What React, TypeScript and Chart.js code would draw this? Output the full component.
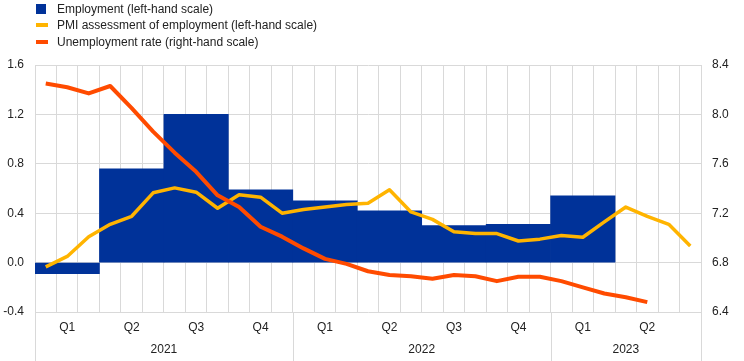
import React, { useEffect, useRef } from 'react';
import { Chart, registerables } from 'chart.js';

Chart.register(...registerables);

// ---- data ----
const monthCount = 31; // Jan 2021 .. Jul 2023
const quarterLabels = ['Q1', 'Q2', 'Q3', 'Q4', 'Q1', 'Q2', 'Q3', 'Q4', 'Q1', 'Q2'];
const yearLabels = ['2021', '2022', '2023'];
const yearCentres = [6, 18, 27.5];
const yearBoundaries = [0, 12, 24, 31];
const leftTicks = [-0.4, 0, 0.4, 0.8, 1.2, 1.6];
const rightTicks = [6.4, 6.8, 7.2, 7.6, 8.0, 8.4];

// quarterly employment growth (left-hand scale)
const employment = [-0.09, 0.76, 1.2, 0.59, 0.5, 0.42, 0.3, 0.31, 0.54];
// monthly PMI assessment of employment (left-hand scale)
const pmiEmployment = [
  -0.035, 0.05, 0.21, 0.31, 0.375, 0.565, 0.605, 0.57, 0.44, 0.55,
  0.53, 0.4, 0.43, 0.45, 0.47, 0.48, 0.59, 0.41, 0.35, 0.25,
  0.235, 0.235, 0.175, 0.19, 0.22, 0.205, 0.33, 0.45, 0.375, 0.31,
  0.135,
];
// monthly unemployment rate (right-hand scale)
const unemployment = [
  8.25, 8.22, 8.17, 8.23, 8.05, 7.86, 7.69, 7.535, 7.345, 7.25,
  7.09, 7.01, 6.915, 6.83, 6.79, 6.73, 6.7, 6.69, 6.67, 6.7,
  6.69, 6.65, 6.685, 6.685, 6.65, 6.6, 6.55, 6.52, 6.48,
];

const BLUE = '#003299';
const YELLOW = '#ffb400';
const ORANGE = '#ff4b00';
const GRID = '#d9d9d9';
const TEXT = '#222222';
const FONT = "'Liberation Sans', Arial, sans-serif";

const yearSeparators = {
  id: 'yearSeparators',
  afterDraw(chart: any) {
    const sx = chart.scales.x;
    const ctx = chart.ctx;
    ctx.save();
    ctx.strokeStyle = GRID;
    ctx.lineWidth = 1;
    yearBoundaries.forEach((v) => {
      const px = Math.round(sx.getPixelForValue(v)) + 0.5;
      ctx.beginPath();
      ctx.moveTo(px, chart.chartArea.bottom);
      ctx.lineTo(px, chart.height);
      ctx.stroke();
    });
    ctx.restore();
  },
};

export default function App() {
  const canvasRef = useRef<HTMLCanvasElement | null>(null);

  useEffect(() => {
    if (!canvasRef.current) return;
    const font = { family: FONT, size: 12 };
    const chart = new Chart(canvasRef.current, {
      type: 'line',
      data: {
        datasets: [
          {
            type: 'line',
            label: 'Unemployment rate (right-hand scale)',
            data: unemployment.map((v, i) => ({ x: i + 0.5, y: v })),
            xAxisID: 'xq',
            yAxisID: 'y1',
            borderColor: ORANGE,
            backgroundColor: ORANGE,
            borderWidth: 4,
            pointRadius: 0,
            tension: 0,
            borderJoinStyle: 'round',
            borderCapStyle: 'butt',
            order: 1,
          },
          {
            type: 'line',
            label: 'PMI assessment of employment (left-hand scale)',
            data: pmiEmployment.map((v, i) => ({ x: i + 0.5, y: v })),
            xAxisID: 'xq',
            yAxisID: 'y',
            borderColor: YELLOW,
            backgroundColor: YELLOW,
            borderWidth: 3.5,
            pointRadius: 0,
            tension: 0,
            borderJoinStyle: 'round',
            order: 2,
          },
          {
            type: 'bar',
            label: 'Employment (left-hand scale)',
            data: employment.map((v, i) => ({ x: i * 3 + 1.5, y: v })),
            xAxisID: 'xq',
            yAxisID: 'y',
            backgroundColor: BLUE,
            borderWidth: 0,
            barPercentage: 1,
            categoryPercentage: 1,
            grouped: false,
            order: 3,
          },
        ] as any,
      },
      options: {
        animation: false,
        responsive: true,
        maintainAspectRatio: false,
        layout: { padding: { top: 65, left: 0, right: 0, bottom: 0 } },
        plugins: { legend: { display: false }, tooltip: { enabled: false } },
        scales: {
          x: {
            type: 'linear',
            position: 'bottom',
            weight: 0,
            min: 0,
            max: monthCount,
            offset: false,
            afterBuildTicks: (s: any) => {
              s.ticks = Array.from({ length: monthCount + 1 }, (_, i) => ({ value: i }));
            },
            ticks: { display: false },
            grid: { color: GRID, drawTicks: false, offset: false },
            border: { display: false },
            afterFit: (s: any) => { s.height = 0; },
          },
          xq: {
            type: 'linear',
            position: 'bottom',
            weight: 1,
            min: 0,
            max: monthCount,
            offset: false,
            afterBuildTicks: (s: any) => {
              s.ticks = quarterLabels.map((_, i) => ({ value: i * 3 + 1.5 }));
            },
            ticks: {
              autoSkip: false,
              maxRotation: 0,
              padding: 8,
              color: TEXT,
              font,
              callback: (_v: any, i: number) => quarterLabels[i],
            },
            grid: { display: false, drawTicks: false, offset: false },
            border: { display: false },
            afterFit: (s: any) => { s.height = 26; },
          },
          xy: {
            type: 'linear',
            position: 'bottom',
            weight: 2,
            min: 0,
            max: monthCount,
            offset: false,
            afterBuildTicks: (s: any) => {
              s.ticks = yearCentres.map((v) => ({ value: v }));
            },
            ticks: {
              autoSkip: false,
              maxRotation: 0,
              padding: 4,
              color: TEXT,
              font,
              callback: (_v: any, i: number) => yearLabels[i],
            },
            grid: { display: false, drawTicks: false, offset: false },
            border: { display: false },
            afterFit: (s: any) => { s.height = 23; },
          },
          y: {
            type: 'linear',
            position: 'left',
            min: -0.4,
            max: 1.6,
            afterBuildTicks: (s: any) => {
              s.ticks = leftTicks.map((v) => ({ value: v }));
            },
            ticks: {
              padding: 11,
              color: TEXT,
              font,
              callback: (v: any) => Number(v).toFixed(1),
            },
            grid: { color: GRID, drawTicks: false },
            border: { display: true, color: GRID },
            afterFit: (s: any) => { s.width = 35; },
          },
          y1: {
            type: 'linear',
            position: 'right',
            min: 6.4,
            max: 8.4,
            afterBuildTicks: (s: any) => {
              s.ticks = rightTicks.map((v) => ({ value: v }));
            },
            ticks: {
              padding: 11,
              color: TEXT,
              font,
              callback: (v: any) => Number(v).toFixed(1),
            },
            grid: { display: false, drawTicks: false },
            border: { display: false },
            afterFit: (s: any) => { s.width = 43; },
          },
        },
      } as any,
      plugins: [yearSeparators],
    });
    return () => chart.destroy();
  }, []);

  const legendItems = [
    { label: 'Employment (left-hand scale)', color: BLUE, kind: 'box' },
    { label: 'PMI assessment of employment (left-hand scale)', color: YELLOW, kind: 'line' },
    { label: 'Unemployment rate (right-hand scale)', color: ORANGE, kind: 'line' },
  ];
  const rowTops = [1, 17, 34];

  return (
    <div
      style={{
        position: 'fixed',
        left: 0,
        top: 0,
        width: 744,
        height: 361,
        background: '#ffffff',
      }}
    >
      <canvas ref={canvasRef} />
      {legendItems.map((it, i) => (
        <div
          key={it.label}
          style={{
            position: 'absolute',
            left: 36,
            top: rowTops[i],
            height: 16,
            display: 'flex',
            alignItems: 'center',
            fontFamily: FONT,
            fontSize: 12,
            lineHeight: '16px',
            color: TEXT,
            whiteSpace: 'nowrap',
          }}
        >
          <span
            style={{
              display: 'inline-block',
              width: it.kind === 'box' ? 10 : 12,
              height: it.kind === 'box' ? 10 : 4,
              background: it.color,
              marginRight: it.kind === 'box' ? 11 : 9,
            }}
          />
          <span>{it.label}</span>
        </div>
      ))}
    </div>
  );
}
